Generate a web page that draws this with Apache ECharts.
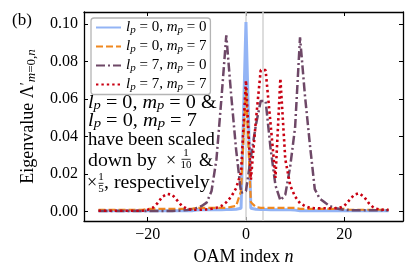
<!DOCTYPE html>
<html><head><meta charset="utf-8">
<script src="https://cdn.jsdelivr.net/npm/echarts@6/dist/echarts.min.js"></script>
<style>html,body{margin:0;padding:0;background:#fff}#c{width:416px;height:276px}</style>
</head><body><div id="c"></div>
<script>
// ---------------- data ----------------
const nIndex = [-30,-29,-28,-27,-26,-25,-24,-23,-22,-21,-20,-19,-18,-17,-16,-15,-14,-13,-12,-11,
  -10,-9,-8,-7,-6,-5,-4,-3,-2,-1,0,1,2,3,4,5,6,7,8,9,10,11,12,13,14,15,16,17,18,19,20,
  21,22,23,24,25,26,27,28,29];
const lpValues = [0, 0, 7, 7];
const mpValues = [0, 7, 0, 7];
// l_p = 0, m_p = 0 (scaled by 1/10)
const eigLp0Mp0 = [0.0005,0.0005,0.0005,0.0005,0.0005,0.0005,0.0005,0.0005,0.0005,0.0005,
  0.0005,0.0005,0.0005,0.0005,0.0005,0.0005,0.0005,0.0005,0.0005,0.0005,
  0.0008,0.001,0.001,0.001,0.001,0.001,0.0011,0.0012,0.0013,0.0018,
  0.1012,
  0.0018,0.0013,0.0012,0.0011,0.001,0.001,0.001,0.001,0.001,0.0008,
  0.0005,0.0005,0.0005,0.0005,0.0005,0.0005,0.0005,0.0005,0.0005,0.0005,
  0.0005,0.0005,0.0005,0.0005,0.0005,0.0005,0.0005,0.0005,0.0005];
// l_p = 0, m_p = 7 (scaled by 1/5)
const eigLp0Mp7 = [0.001,0.001,0.001,0.001,0.001,0.001,0.001,0.001,0.001,0.001,
  0.0015,0.0015,0.0015,0.0015,0.0015,0.0015,0.0015,0.0015,0.0015,0.0015,
  0.002,0.002,0.002,0.002,0.002,0.002,0.002,0.0025,0.003,0.011,
  0.066,
  0.005,0.0025,0.002,0.002,0.002,0.002,0.002,0.002,0.002,0.002,
  0.0015,0.0015,0.0015,0.0015,0.0015,0.0015,0.0015,0.0015,0.0015,0.0015,
  0.001,0.001,0.001,0.001,0.001,0.001,0.001,0.001,0.001];
// l_p = 7, m_p = 0
const eigLp7Mp0 = [0.0004,0.0004,0.0004,0.0004,0.0004,0.0004,0.0004,0.0004,0.0004,0.0004,
  0.0004,0.0004,0.0004,0.0004,0.0004,0.0004,0.0005,0.0006,0.0009,0.0013,
  0.002,0.003,0.0048,0.011,0.028,0.06,0.094,0.062,0.033,0.010,
  0.011,
  0.029,0.046,0.059,0.059,0.034,0.014,0.006,0.009,0.024,0.045,
  0.093,0.062,0.036,0.012,0.007,0.005,0.003,0.002,0.0014,0.001,
  0.0008,0.0008,0.0008,0.0008,0.0008,0.0008,0.0008,0.0008,0.0008];
// l_p = 7, m_p = 7
const eigLp7Mp7 = [0.0005,0.0005,0.0005,0.0005,0.0005,0.0005,0.0005,0.0005,0.0005,0.0005,
  0.001,0.002,0.0045,0.008,0.0095,0.009,0.006,0.003,0.0015,0.001,
  0.001,0.001,0.0012,0.0015,0.002,0.003,0.005,0.008,0.0125,0.021,
  0.070,
  0.017,0.048,0.0755,0.0755,0.047,0.018,0.071,0.028,0.014,0.008,
  0.0045,0.003,0.002,0.0018,0.0018,0.0018,0.0018,0.0018,0.002,0.003,
  0.006,0.009,0.0098,0.008,0.0045,0.002,0.0012,0.001,0.001];
const xTicks = [-20, 0, 20];
const yTicks = [0, 0.02, 0.04, 0.06, 0.08, 0.10];
const guideLines = [0, 3.5];

// ---------------- style ----------------
const F = 'Liberation Serif';
function mathRich(size) {
  return {
    r: { fontFamily: F, fontSize: size, lineHeight: size + 1, verticalAlign: 'middle', color: '#000' },
    i: { fontFamily: F, fontStyle: 'italic', fontSize: size, lineHeight: size + 1, verticalAlign: 'middle', color: '#000' },
    s: { fontFamily: F, fontStyle: 'italic', fontSize: Math.round(size * 0.7), lineHeight: 7, verticalAlign: 'bottom', color: '#000' },
    sr: { fontFamily: F, fontSize: Math.round(size * 0.7), lineHeight: 7, verticalAlign: 'bottom', color: '#000' },
    sup: { fontFamily: F, fontSize: Math.round(size * 0.8), lineHeight: 8, verticalAlign: 'top', color: '#000' }
  };
}
const seriesNames = lpValues.map((lp, k) => 'l_p = ' + lp + ', m_p = ' + mpValues[k]);
function mathLabel(lp, mp) { return '{i|l}{s|p}{r| = ' + lp + ', }{i|m}{s|p}{r| = ' + mp + '}'; }

const seriesData = [eigLp0Mp0, eigLp0Mp7, eigLp7Mp0, eigLp7Mp7];
const colors = ['#93b4f5', '#f0881f', '#6e4867', '#c90012'];
const lineStyles = [
  { width: 3, type: 'solid' },
  { width: 2.2, type: [7, 3] },
  { width: 2.5, type: [9, 3, 2, 3] },
  { width: 2.6, type: [2.4, 3] }
];

const series = seriesData.map((vals, k) => {
  const s = {
    name: seriesNames[k], type: 'line', symbol: 'none', smooth: false,
    data: vals.map((v, j) => [nIndex[j], v]),
    lineStyle: Object.assign({ color: colors[k] }, lineStyles[k]),
    itemStyle: { color: colors[k] }, z: 2 + k
  };
  if (k === 0) {
    s.markLine = { silent: true, symbol: ['none', 'none'], label: { show: false },
      lineStyle: { color: '#d2d2d2', width: 1.5, type: 'solid' },
      data: guideLines.map(g => ({ xAxis: g })), z: 1 };
  }
  return s;
});

function fmtTick(v) { return v < 0 ? '\u2212' + Math.abs(v) : String(v); }

const axisCommon = {
  axisLine: { show: true, onZero: false, lineStyle: { color: '#000', width: 1.3 } },
  axisTick: { show: true, inside: true, length: 4, lineStyle: { color: '#000', width: 1 } },
  splitLine: { show: false }
};

function txt(x, y, text, size, sx) {
  return { type: 'text', x: x, y: y, z: 100, scaleX: sx || 1,
    style: { text: text, font: size + 'px "' + F + '"', fill: '#000', verticalAlign: 'middle', align: 'left', rich: mathRich(size) } };
}
function frac(cx, yn, yb, yd, w, num, den) {
  return [
    { type: 'text', x: cx, y: yn, z: 100, style: { text: num, font: '11px "' + F + '"', fill: '#000', align: 'center', verticalAlign: 'middle' } },
    { type: 'line', z: 100, shape: { x1: cx - w / 2, y1: yb, x2: cx + w / 2, y2: yb }, style: { stroke: '#000', lineWidth: 0.8 } },
    { type: 'text', x: cx, y: yd, z: 100, style: { text: den, font: '11px "' + F + '"', fill: '#000', align: 'center', verticalAlign: 'middle' } }
  ];
}

const AS = 18;
const graphics = [
  txt(12, 21, '{r|(b)}', 17),
  txt(88, 103, mathLabel(0, 0) + '{r| &}', AS, 1.12),
  txt(88, 121, mathLabel(0, 7), AS, 1.13),
  txt(88, 140, '{r|have been scaled}', AS, 1.04),
  txt(88, 161, '{r|down by}', AS, 1.1),
  txt(166, 161, '{r|\u00d7}', AS),
  ...frac(186, 153, 159.3, 165.5, 9, '1', '10'),
  txt(199, 161, '{r|&}', AS),
  txt(87, 183, '{r|\u00d7}', AS),
  ...frac(101, 177.5, 183.3, 189.5, 5, '1', '5'),
  txt(104, 183, '{r|, respectively}', AS, 1.1)
];

const YN = 18;
const option = {
  animation: false,
  backgroundColor: '#fff',
  grid: { left: 84, right: 13, top: 12, bottom: 55, containLabel: false },
  legend: {
    show: true, orient: 'vertical', left: 91, top: 18,
    data: seriesNames,
    itemWidth: 25, itemHeight: 14, itemGap: 3.5,
    padding: [2, 4, 2, 4],
    borderColor: '#b4b4b4', borderWidth: 1.3, borderRadius: 3,
    backgroundColor: 'rgba(255,255,255,0.85)',
    itemStyle: { opacity: 0 },
    formatter: function (name) { const k = seriesNames.indexOf(name); return mathLabel(lpValues[k], mpValues[k]); },
    textStyle: { fontFamily: F, fontSize: 15, rich: mathRich(15) }
  },
  xAxis: [
    Object.assign({}, axisCommon, {
      type: 'value', position: 'bottom', min: -32.95, max: 31.95,
      name: '{r|OAM index }{i|n}', nameLocation: 'middle', nameGap: 25,
      nameTextStyle: { fontFamily: F, fontSize: AS, rich: mathRich(AS) },
      axisTick: Object.assign({}, axisCommon.axisTick, { customValues: xTicks }),
      axisLabel: { customValues: xTicks, formatter: fmtTick, fontFamily: F, fontSize: 16, color: '#000', margin: 6 }
    }),
    Object.assign({}, axisCommon, {
      type: 'value', position: 'top', min: -32.95, max: 31.95,
      axisTick: Object.assign({}, axisCommon.axisTick, { customValues: xTicks }),
      axisLabel: { show: false }
    })
  ],
  yAxis: [
    Object.assign({}, axisCommon, {
      type: 'value', position: 'left', min: -0.005, max: 0.1065,
      name: '{r|Eigenvalue }{r|\u039b}{sup|\u2032}{s|m}{sr|=0,}{s|n}', nameLocation: 'middle', nameGap: 46,
      nameTextStyle: { fontFamily: F, fontSize: YN, rich: mathRich(YN) },
      axisTick: Object.assign({}, axisCommon.axisTick, { customValues: yTicks }),
      axisLabel: { customValues: yTicks, formatter: v => v.toFixed(2), fontFamily: F, fontSize: 16, color: '#000', margin: 6 }
    }),
    Object.assign({}, axisCommon, {
      type: 'value', position: 'right', min: -0.005, max: 0.1065,
      axisTick: Object.assign({}, axisCommon.axisTick, { customValues: yTicks }),
      axisLabel: { show: false }
    })
  ],
  series: series,
  graphic: graphics
};

const chart = echarts.init(document.getElementById('c'), null, { renderer: 'canvas' });
chart.setOption(option);
</script>
</body></html>
